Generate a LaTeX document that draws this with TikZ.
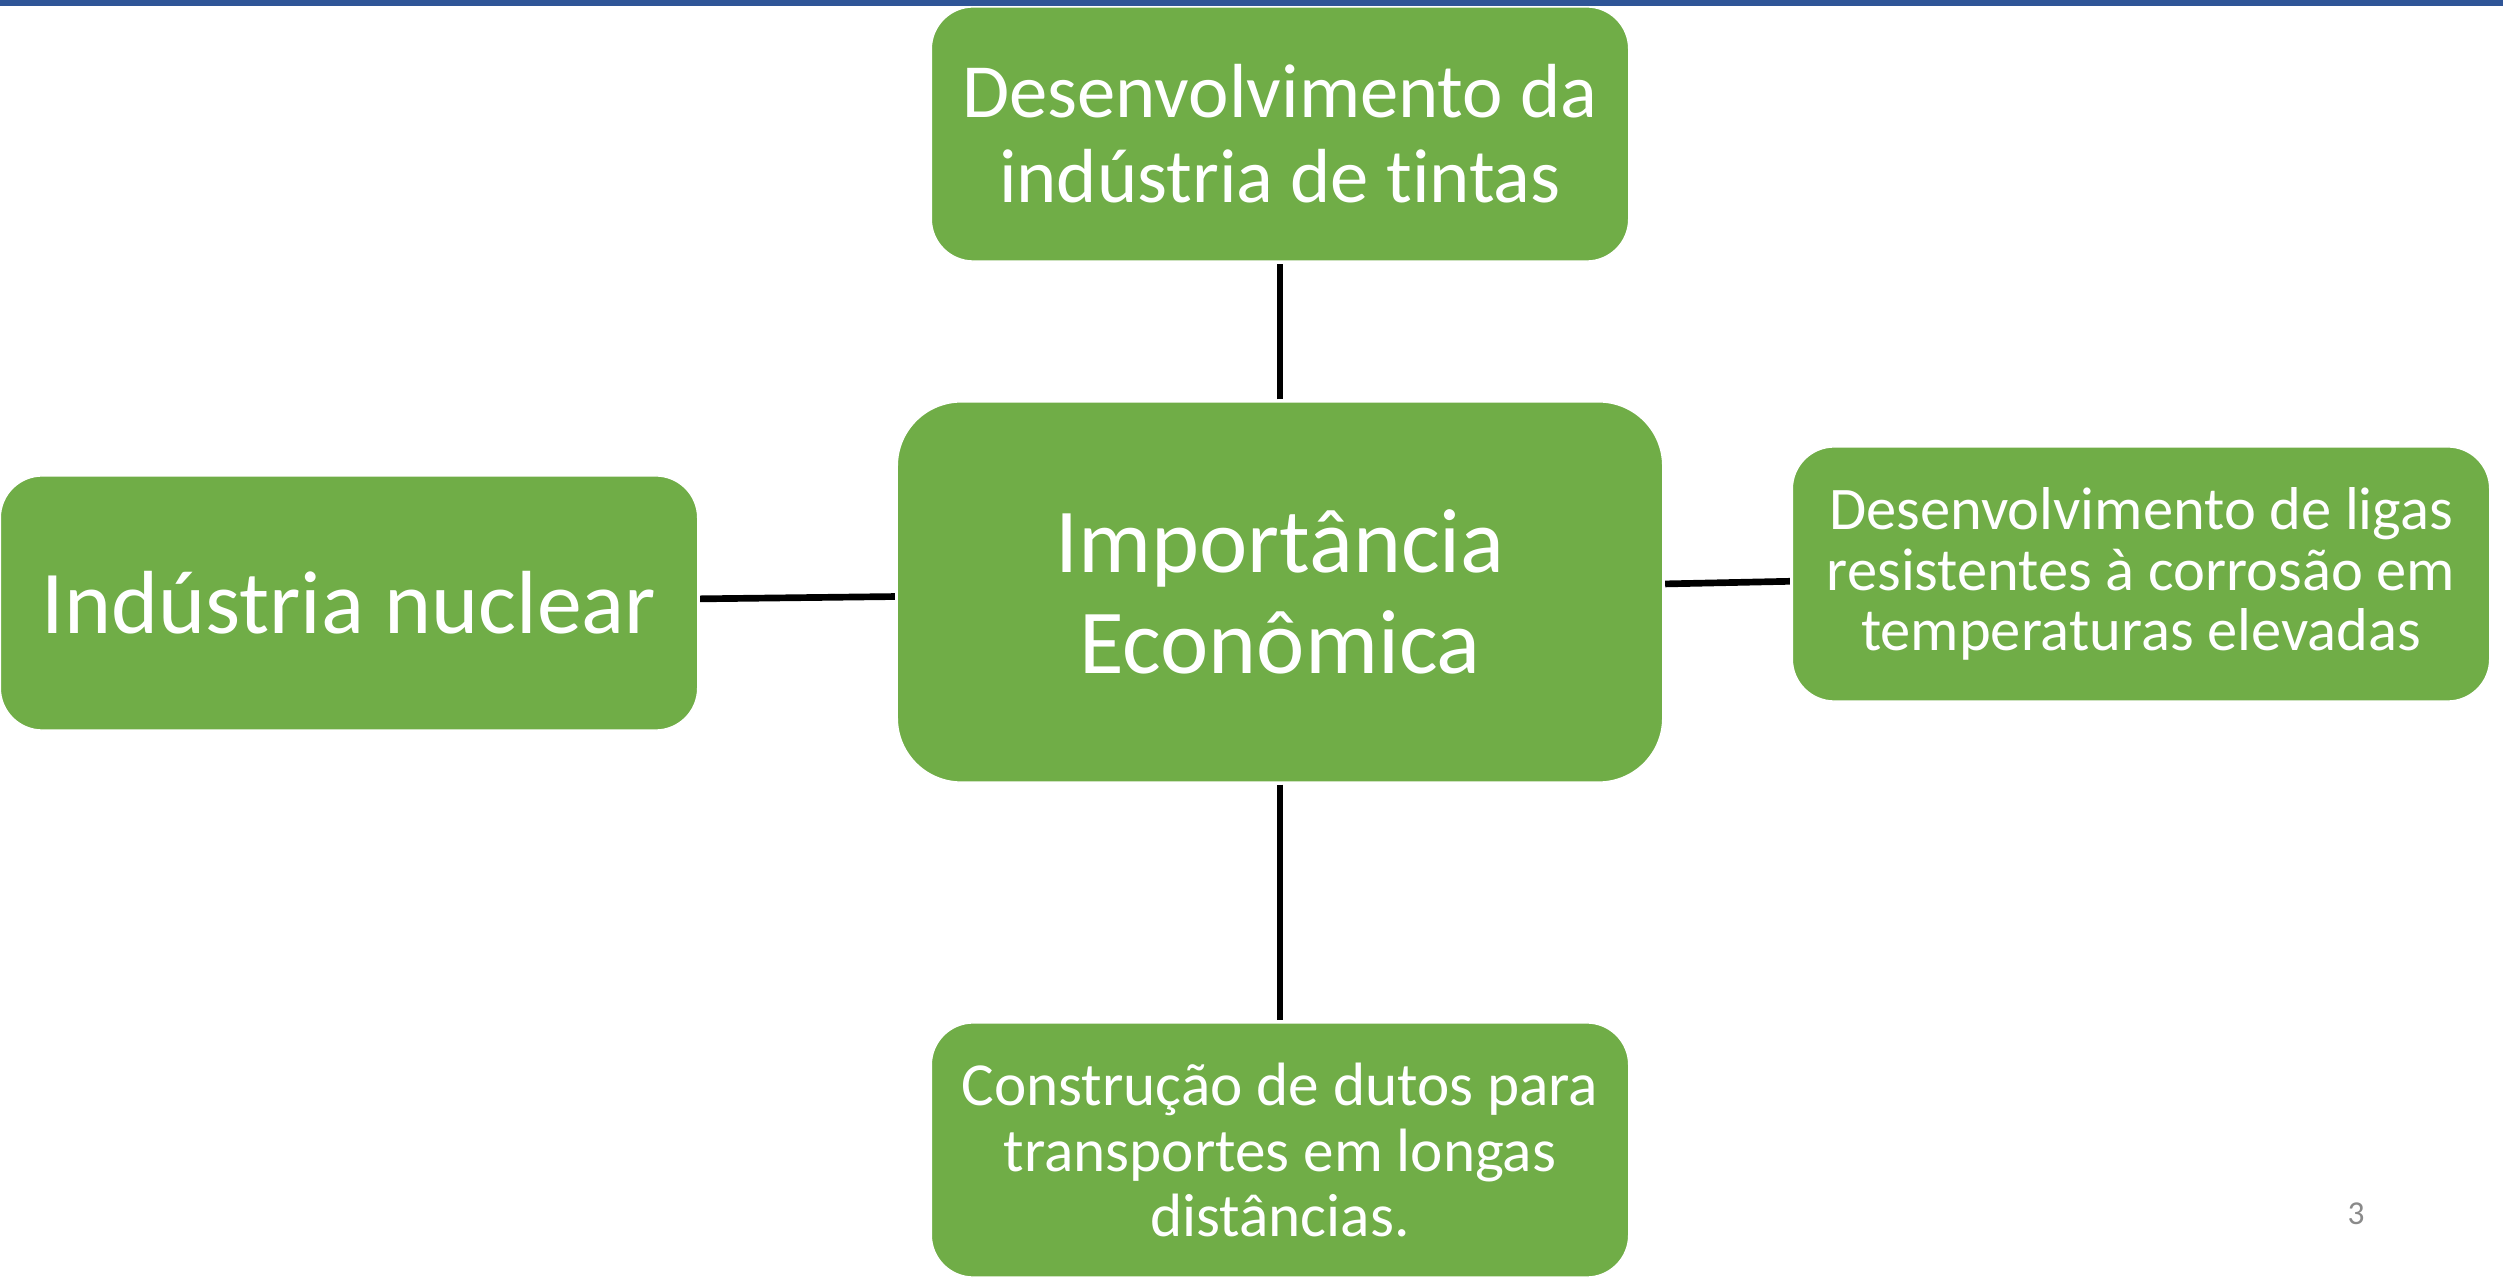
\documentclass[tikz,border=0pt]{standalone}
\definecolor{slideblue}{HTML}{2F5597}
\definecolor{leafgreen}{HTML}{70AD47}
\definecolor{pagegray}{HTML}{8A8A8A}
\usepackage{fontspec}
\setmainfont{Carlito}[Ligatures=NoCommon]
\usepackage{tikz}
\usetikzlibrary{positioning}

\begin{document}
\begin{tikzpicture}[x=0.01cm, y=-0.01cm,
    leaf/.style={fill=leafgreen, draw=white, line width=0.4pt, rounded corners=0.42cm,
      minimum width=6.97cm, minimum height=2.54cm, inner sep=0pt,
      align=center, text=white},
    hub/.style={leaf, rounded corners=0.64cm, minimum width=7.65cm, minimum height=3.8cm},
    link/.style={black, line width=1.9pt, shorten <=0.5pt, shorten >=0.5pt}]
        \useasboundingbox (0,0) rectangle (2503,1280);
        % Title bar of the slide
        \fill[slideblue] (0,0) rectangle (2503,6);
        % Central node
        \node[hub, font={\fontsize{26}{28.5}\selectfont}] (eco) at (1280,592)
          {Importância\\Econômica};
        % Surrounding nodes
        \node[leaf, font={\fontsize{21.8}{24.2}\selectfont}] (tintas) at (1280,134)
          {Desenvolvimento da\\indústria de tintas};
        \node[leaf, font={\fontsize{25.5}{28}\selectfont}] (nuclear) at (349,603)
          {Indústria nuclear};
        \node[leaf, font={\fontsize{17.2}{17.1}\selectfont}] (ligas) at (2141,574)
          {Desenvolvimento de ligas\\resistentes à corrosão em\\temperaturas elevadas};
        \node[leaf, font={\fontsize{17.4}{18.5}\selectfont}] (dutos) at (1280,1150)
          {Construção de dutos para\\transportes em longas\\distâncias.};
        % Connectors
        \draw[link] (eco) -- (tintas);
        \draw[link] (eco) -- (nuclear);
        \draw[link] (eco) -- (ligas);
        \draw[link] (eco) -- (dutos);
        % Slide number
        \node[text=pagegray, font={\fontsize{9.5}{11}\selectfont}] (pagenum) at (2356,1214) {3};
      \end{tikzpicture}
\end{document}
